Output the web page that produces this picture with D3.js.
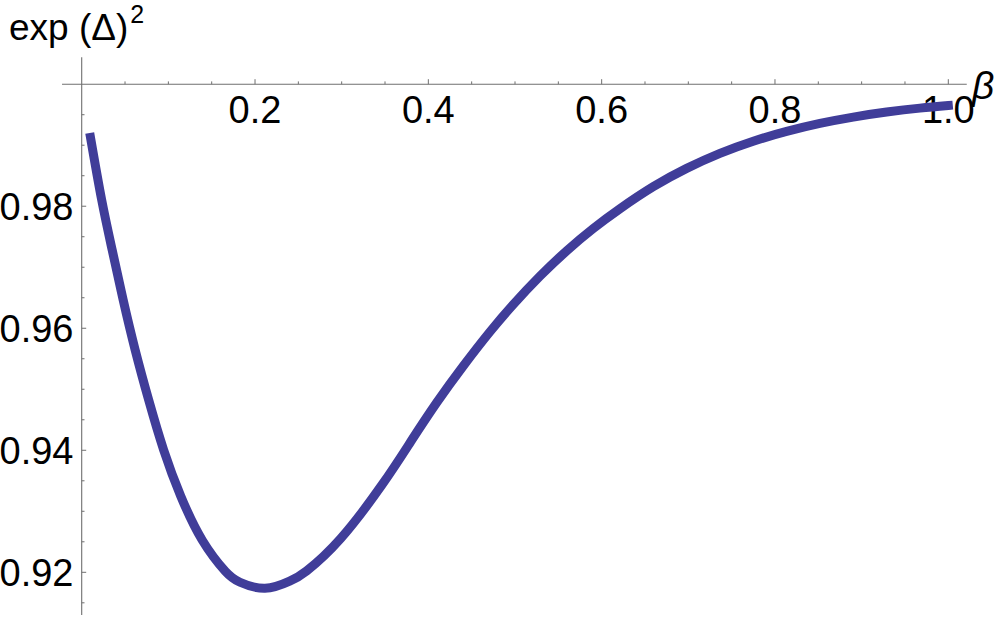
<!DOCTYPE html>
<html>
<head>
<meta charset="utf-8">
<script src="https://cdn.jsdelivr.net/npm/d3@7"></script>
<style>
  html, body { margin: 0; padding: 0; background: #ffffff; }
  svg { display: block; }
  text { font-family: "Liberation Sans", Arial, Helvetica, sans-serif; fill: #000; }
</style>
</head>
<body>
<svg id="chart" width="1000" height="617"></svg>
<script>
// ---- data ----
const beta = [0.01015, 0.02308, 0.03519, 0.04788, 0.06173, 0.07731, 0.09461, 0.11423, 0.13915, 0.16569,
              0.18265, 0.21150, 0.23997, 0.25962, 0.29885, 0.34685, 0.37996, 0.40962, 0.44031, 0.47112,
              0.49800, 0.52881, 0.55962, 0.59031, 0.62112, 0.65954, 0.69808, 0.73650, 0.77492, 0.81346,
              0.85188, 0.89031, 0.92885, 0.96727, 1.00000];
const expDelta2 = [0.99128, 0.98102, 0.97282, 0.96463, 0.95643, 0.94824, 0.94004, 0.93252, 0.92526, 0.92018,
                   0.91837, 0.91737, 0.91854, 0.92024, 0.92554, 0.93440, 0.94147, 0.94780, 0.95381, 0.95942,
                   0.96389, 0.96853, 0.97269, 0.97635, 0.97959, 0.98320, 0.98620, 0.98866, 0.99066, 0.99226,
                   0.99357, 0.99461, 0.99543, 0.99608, 0.99651];
const xMajorTicks = [0.2, 0.4, 0.6, 0.8, 1.0];
const xTickLabels = ["0.2", "0.4", "0.6", "0.8", "1.0"];
const xMinorTicks = [0.05, 0.1, 0.15, 0.25, 0.3, 0.35, 0.45, 0.5, 0.55, 0.65, 0.7, 0.75, 0.85, 0.9, 0.95];
const yMajorTicks = [0.92, 0.94, 0.96, 0.98];
const yTickLabels = ["0.92", "0.94", "0.96", "0.98"];
const yMinorTicks = [0.915, 0.925, 0.93, 0.935, 0.945, 0.95, 0.955, 0.965, 0.97, 0.975, 0.985, 0.99, 0.995];

const svg = d3.select("#chart");
const x = d3.scaleLinear().domain([0, 1]).range([81.7, 948.3]);
const y = d3.scaleLinear().domain([0.92, 1.0]).range([572.3, 84.2]);
const axisColor = "#6f6f6f";

// axes lines
svg.append("line")
  .attr("x1", x(-0.0227)).attr("x2", x(1.0213))
  .attr("y1", y(1.0)).attr("y2", y(1.0))
  .attr("stroke", axisColor).attr("stroke-width", 1.1);
svg.append("line")
  .attr("x1", x(0)).attr("x2", x(0))
  .attr("y1", y(1.0044)).attr("y2", y(0.913))
  .attr("stroke", axisColor).attr("stroke-width", 1.1);

// x ticks (pointing up)
svg.selectAll(".xmaj").data(xMajorTicks).enter().append("line")
  .attr("x1", d => x(d)).attr("x2", d => x(d))
  .attr("y1", y(1.0)).attr("y2", y(1.0) - 5)
  .attr("stroke", axisColor).attr("stroke-width", 1);
svg.selectAll(".xmin").data(xMinorTicks).enter().append("line")
  .attr("x1", d => x(d)).attr("x2", d => x(d))
  .attr("y1", y(1.0)).attr("y2", y(1.0) - 2.8)
  .attr("stroke", axisColor).attr("stroke-width", 1);
svg.selectAll(".xlab").data(xMajorTicks).enter().append("text")
  .attr("x", d => x(d)).attr("y", 123)
  .attr("text-anchor", "middle")
  .attr("font-size", 38)
  .text((d, i) => xTickLabels[i]);

// y ticks (pointing right)
svg.selectAll(".ymaj").data(yMajorTicks).enter().append("line")
  .attr("x1", x(0)).attr("x2", x(0) + 4.5)
  .attr("y1", d => y(d)).attr("y2", d => y(d))
  .attr("stroke", axisColor).attr("stroke-width", 1);
svg.selectAll(".ymin").data(yMinorTicks).enter().append("line")
  .attr("x1", x(0)).attr("x2", x(0) + 2.8)
  .attr("y1", d => y(d)).attr("y2", d => y(d))
  .attr("stroke", axisColor).attr("stroke-width", 1);
svg.selectAll(".ylab").data(yMajorTicks).enter().append("text")
  .attr("x", 73.5).attr("y", d => y(d) + 13.6)
  .attr("text-anchor", "end")
  .attr("font-size", 38)
  .text((d, i) => yTickLabels[i]);

// curve
const pts = beta.map((b, i) => [b, expDelta2[i]]);
const line = d3.line().x(d => x(d[0])).y(d => y(d[1])).curve(d3.curveNatural);
svg.append("path")
  .attr("d", line(pts))
  .attr("fill", "none")
  .attr("stroke", "#403d99")
  .attr("stroke-width", 9)
  .attr("stroke-linecap", "square")
  .attr("stroke-linejoin", "round");

// axis labels
const yl = svg.append("text").attr("x", 9).attr("y", 40).attr("font-size", 37);
yl.append("tspan").text("exp (\u0394)");
yl.append("tspan").attr("font-size", 25).attr("dy", -17).attr("dx", 2).text("2");

svg.append("text").attr("x", 972).attr("y", 99)
  .attr("font-size", 39).attr("font-style", "italic").text("\u03b2");
</script>
</body>
</html>
